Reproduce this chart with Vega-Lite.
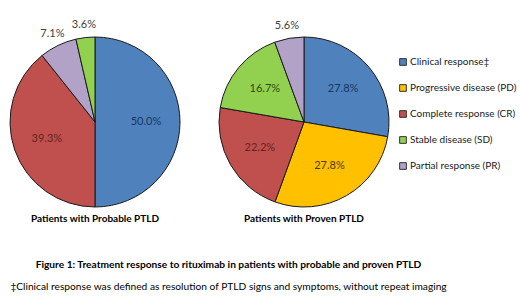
{
  "$schema": "https://vega.github.io/schema/vega-lite/v6.json",
  "padding": {"left": 0, "top": 18, "right": 0, "bottom": 0},
  "background": "white",
  "data": {"values": [
    {"panel": "Patients with Probable PTLD", "category": "Clinical response‡", "value": 50.0, "label": "50.0%", "ord": 1},
    {"panel": "Patients with Probable PTLD", "category": "Complete response (CR)", "value": 39.3, "label": "39.3%", "ord": 2},
    {"panel": "Patients with Probable PTLD", "category": "Partial response (PR)", "value": 7.1, "label": "7.1%", "ord": 3},
    {"panel": "Patients with Probable PTLD", "category": "Stable disease (SD)", "value": 3.6, "label": "3.6%", "ord": 4},
    {"panel": "Patients with Proven PTLD", "category": "Clinical response‡", "value": 27.8, "label": "27.8%", "ord": 1},
    {"panel": "Patients with Proven PTLD", "category": "Progressive disease (PD)", "value": 27.8, "label": "27.8%", "ord": 2},
    {"panel": "Patients with Proven PTLD", "category": "Complete response (CR)", "value": 22.2, "label": "22.2%", "ord": 3},
    {"panel": "Patients with Proven PTLD", "category": "Stable disease (SD)", "value": 16.7, "label": "16.7%", "ord": 4},
    {"panel": "Patients with Proven PTLD", "category": "Partial response (PR)", "value": 5.6, "label": "5.6%", "ord": 5}
  ]},
  "title": {
    "text": "Figure 1: Treatment response to rituximab in patients with probable and proven PTLD",
    "subtitle": "‡Clinical response was defined as resolution of PTLD signs and symptoms,  without  repeat imaging",
    "orient": "bottom",
    "anchor": "middle",
    "dx": -30,
    "font": "Lato",
    "fontSize": 10.2,
    "fontWeight": "bold",
    "color": "#000000",
    "subtitleFont": "Lato",
    "subtitleFontSize": 10.2,
    "subtitleColor": "#000000",
    "subtitlePadding": 12,
    "offset": 36
  },
  "facet": {
    "column": {
      "field": "panel",
      "type": "nominal",
      "sort": ["Patients with Probable PTLD", "Patients with Proven PTLD"],
      "header": {
        "title": null,
        "labelOrient": "bottom",
        "labelFont": "Lato",
        "labelFontWeight": "bold",
        "labelFontSize": 10,
        "labelColor": "#000000",
        "labelPadding": -3
      }
    }
  },
  "spacing": 16,
  "spec": {
    "width": 190,
    "height": 190,
    "encoding": {
      "theta": {"field": "value", "type": "quantitative", "stack": true},
      "order": {"field": "ord", "type": "quantitative"}
    },
    "layer": [
      {
        "mark": {"type": "arc", "outerRadius": 85, "stroke": "#1a1a1a", "strokeWidth": 1},
        "encoding": {
          "color": {
            "field": "category",
            "type": "nominal",
            "scale": {
              "domain": ["Clinical response‡", "Progressive disease (PD)", "Complete response (CR)", "Stable disease (SD)", "Partial response (PR)"],
              "range": ["#4F81BD", "#FFC000", "#C0504D", "#92D050", "#B3A2C7"]
            },
            "legend": {
              "title": null,
              "orient": "none",
              "legendX": 398,
              "legendY": 30,
              "symbolType": "square",
              "symbolSize": 45,
              "symbolStrokeColor": "#333333",
              "symbolStrokeWidth": 1,
              "labelFont": "Lato",
              "labelFontSize": 10,
              "labelColor": "#1a1a1a",
              "labelOffset": 2,
              "labelLimit": 200,
              "rowPadding": 14
            }
          }
        }
      },
      {
        "mark": {"type": "text", "radius": 51, "font": "Lato", "fontSize": 11},
        "encoding": {
          "text": {"condition": {"test": "datum.value >= 10", "field": "label"}, "value": ""},
          "fill": {
            "field": "category",
            "type": "nominal",
            "scale": {
              "domain": ["Clinical response‡", "Progressive disease (PD)", "Complete response (CR)", "Stable disease (SD)", "Partial response (PR)"],
              "range": ["#17375E", "#4A3A00", "#632523", "#2E4A10", "#3F3151"]
            },
            "legend": null
          }
        }
      },
      {
        "mark": {"type": "text", "radius": 98, "font": "Lato", "fontSize": 11, "color": "#404040"},
        "encoding": {
          "text": {"condition": {"test": "datum.value < 10", "field": "label"}, "value": ""}
        }
      }
    ]
  },
  "resolve": {"scale": {"theta": "independent"}},
  "config": {"view": {"stroke": null}}
}
